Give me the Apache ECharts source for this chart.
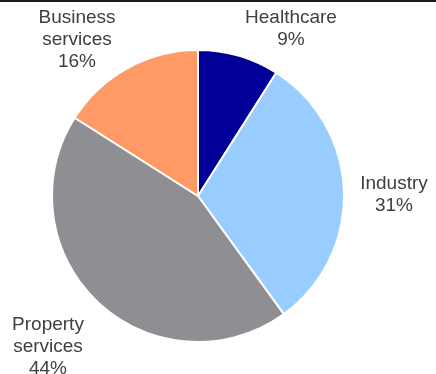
<!DOCTYPE html>
<html>
<head>
<meta charset="utf-8">
<script src="https://cdn.jsdelivr.net/npm/echarts@6/dist/echarts.min.js"></script>
<style>
  html, body { margin: 0; padding: 0; background: #fff; }
  #topRule { position: absolute; left: 0; top: 0; width: 436px; height: 2px; background: #1a1a1a; }
  #chart { width: 436px; height: 374px; }
</style>
</head>
<body>
<div id="topRule"></div>
<div id="chart"></div>
<script>
// Sector split, clockwise from 12 o'clock
const sectors = ['Healthcare', 'Industry', 'Property\nservices', 'Business\nservices'];
const shares = [9, 31, 44, 16];

// Presentation
const sectorColors = ['#000099', '#99CCFF', '#8E8E93', '#FF9966'];
const labelSpots = [[291, 29], [394, 195], [48, 347], [77, 40]];

const chart = echarts.init(document.getElementById('chart'), null, { renderer: 'canvas' });

chart.setOption({
  animation: false,
  series: [{
    type: 'pie',
    center: [198, 196],
    radius: [0, 146],
    startAngle: 90,
    clockwise: true,
    data: sectors.map((name, i) => ({
      name: name,
      value: shares[i],
      itemStyle: { color: sectorColors[i] }
    })),
    itemStyle: { borderColor: '#ffffff', borderWidth: 2 },
    label: {
      show: true,
      position: 'outside',
      formatter: p => p.name + '\n' + p.value + '%',
      fontFamily: 'Liberation Sans, Arial, sans-serif',
      fontSize: 19,
      lineHeight: 22,
      color: '#404040',
      align: 'center',
      overflow: 'none'
    },
    labelLine: { show: false },
    labelLayout: p => ({
      x: labelSpots[p.dataIndex][0],
      y: labelSpots[p.dataIndex][1],
      align: 'center',
      verticalAlign: 'middle'
    }),
    emphasis: { disabled: true }
  }]
});
</script>
</body>
</html>
